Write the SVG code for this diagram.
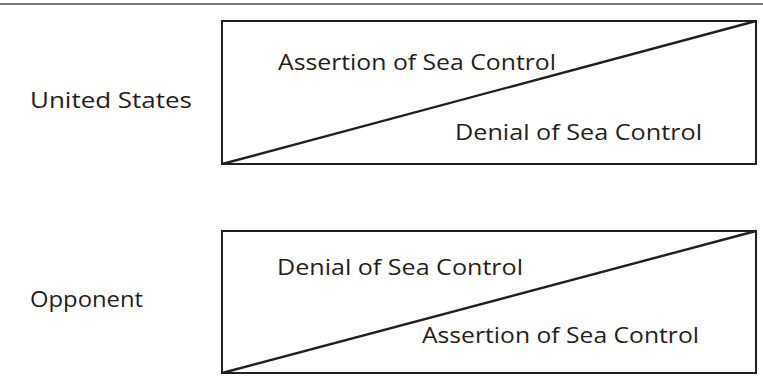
<svg xmlns="http://www.w3.org/2000/svg" width="763" height="376" viewBox="0 0 763 376">
<style>
.box{fill:#fff;stroke:#231f20;stroke-width:2}
.diag{stroke:#231f20;stroke-width:2.4;fill:none}
.t{font-family:"Open Sans","Noto Sans",sans-serif;font-size:21.5px;fill:#231f20}
</style>
<rect width="763" height="376" fill="#fff"/>
<line x1="0" y1="4" x2="763" y2="4" stroke="#4d4d4d" stroke-width="1.3"/>
<g id="label-us"><text class="t" x="30" y="108" textLength="162" lengthAdjust="spacingAndGlyphs">United States</text></g>
<g id="label-opp"><text class="t" x="30" y="307" textLength="113" lengthAdjust="spacingAndGlyphs">Opponent</text></g>
<g id="box-us">
<rect class="box" x="222" y="21" width="534" height="143"/>
<text class="t" x="278" y="70" textLength="278" lengthAdjust="spacingAndGlyphs">Assertion of Sea Control</text>
<text class="t" x="455" y="140" textLength="247" lengthAdjust="spacingAndGlyphs">Denial of Sea Control</text>
</g>
<g id="box-opp">
<rect class="box" x="222" y="231" width="534" height="142"/>
<text class="t" x="277" y="275" textLength="246" lengthAdjust="spacingAndGlyphs">Denial of Sea Control</text>
<text class="t" x="422" y="343" textLength="277" lengthAdjust="spacingAndGlyphs">Assertion of Sea Control</text>
</g>
<g id="connectors">
<line class="diag" x1="222" y1="164" x2="756" y2="21"/>
<line class="diag" x1="222" y1="373" x2="756" y2="231"/>
</g>
</svg>
